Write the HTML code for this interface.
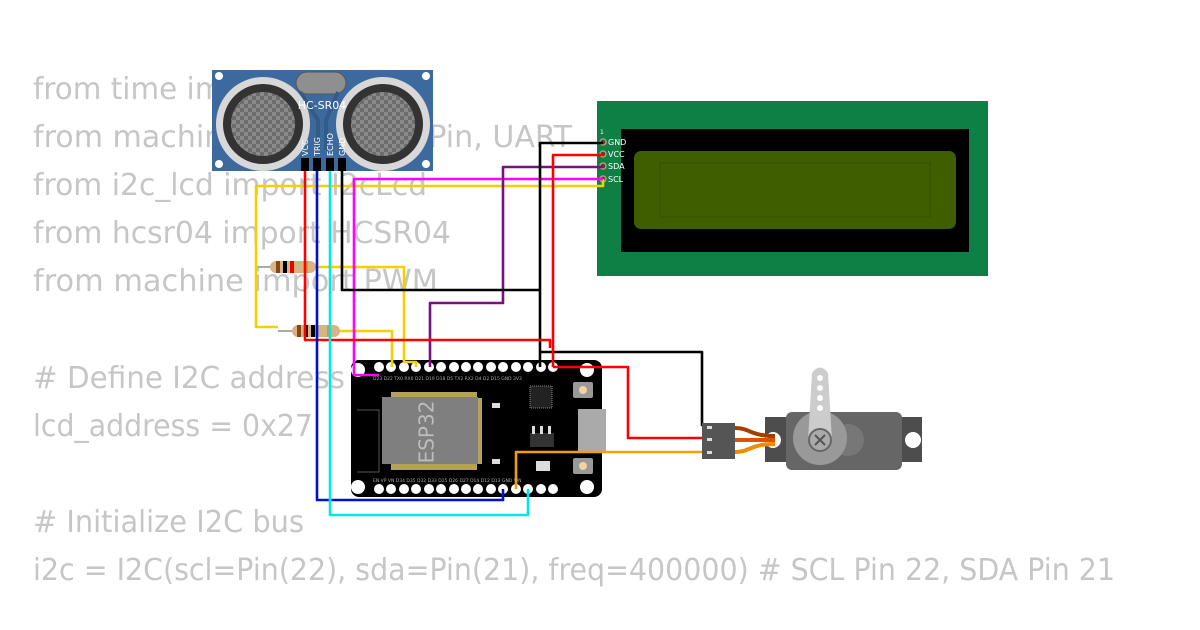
<!DOCTYPE html>
<html><head><meta charset="utf-8"><style>html,body{margin:0;padding:0;background:#fff}svg{display:block}</style></head>
<body>
<svg width="1200" height="630" viewBox="0 0 1200 630" xmlns="http://www.w3.org/2000/svg">
<defs>
<pattern id="chk" width="8" height="8" patternUnits="userSpaceOnUse">
<rect width="8" height="8" fill="#6d6d6d"/><rect width="4" height="4" fill="#8a8a8a"/><rect x="4" y="4" width="4" height="4" fill="#8a8a8a"/>
</pattern>
</defs>
<g font-family="'DejaVu Sans','Liberation Sans',sans-serif" font-size="30" fill="#c6c6c6">
<text x="33" y="99" textLength="397" lengthAdjust="spacingAndGlyphs">from time import sleep_ms</text>
<text x="33" y="147" textLength="539" lengthAdjust="spacingAndGlyphs">from machine import I2C, Pin, UART</text>
<text x="33" y="195" textLength="394" lengthAdjust="spacingAndGlyphs">from i2c_lcd import I2cLcd</text>
<text x="33" y="243" textLength="418" lengthAdjust="spacingAndGlyphs">from hcsr04 import HCSR04</text>
<text x="33" y="291" textLength="405" lengthAdjust="spacingAndGlyphs">from machine  import PWM</text>
<text x="33" y="388" textLength="312" lengthAdjust="spacingAndGlyphs"># Define I2C address</text>
<text x="33" y="436" textLength="280" lengthAdjust="spacingAndGlyphs">lcd_address = 0x27</text>
<text x="33" y="532" textLength="271" lengthAdjust="spacingAndGlyphs"># Initialize I2C bus</text>
<text x="33" y="580" textLength="1082" lengthAdjust="spacingAndGlyphs">i2c = I2C(scl=Pin(22), sda=Pin(21), freq=400000)  # SCL Pin 22, SDA Pin 21</text>
</g>

<!-- LCD -->
<rect x="597" y="101" width="391" height="175" fill="#0e7f45"/>
<rect x="621" y="129" width="348" height="123" fill="#000"/>
<rect x="634" y="151" width="322" height="78" rx="7" fill="#3f5e00"/>
<g fill="none" stroke="#375200" stroke-width="1">
<rect x="660" y="163" width="270" height="54"/>
</g>
<g font-family="'DejaVu Sans',sans-serif" font-size="8" fill="#fff">
<text x="600" y="134" font-size="6">1</text>
<text x="608" y="145">GND</text><text x="608" y="157">VCC</text><text x="608" y="169">SDA</text><text x="608" y="182">SCL</text>
</g>
<g fill="#444" stroke="#b89b6a" stroke-width="1.5">
<circle cx="603" cy="142" r="3"/><circle cx="603" cy="154" r="3"/><circle cx="603" cy="166" r="3"/><circle cx="603" cy="179" r="3"/>
</g>

<!-- ESP32 -->
<rect x="351" y="360" width="251" height="137" rx="8" fill="#000"/>
<g fill="#fff">
<circle cx="358" cy="370" r="7"/><circle cx="587" cy="370" r="7"/><circle cx="358" cy="487" r="7"/><circle cx="587" cy="487" r="7"/>
</g>
<g fill="#fff">
<circle cx="379" cy="367" r="5"/><circle cx="391" cy="367" r="5"/><circle cx="404" cy="367" r="5"/><circle cx="416" cy="367" r="5"/><circle cx="429" cy="367" r="5"/><circle cx="441" cy="367" r="5"/><circle cx="454" cy="367" r="5"/><circle cx="466" cy="367" r="5"/><circle cx="478" cy="367" r="5"/><circle cx="491" cy="367" r="5"/><circle cx="503" cy="367" r="5"/><circle cx="516" cy="367" r="5"/><circle cx="528" cy="367" r="5"/><circle cx="541" cy="367" r="5"/><circle cx="553" cy="367" r="5"/>
<circle cx="379" cy="489" r="5"/><circle cx="391" cy="489" r="5"/><circle cx="404" cy="489" r="5"/><circle cx="416" cy="489" r="5"/><circle cx="429" cy="489" r="5"/><circle cx="441" cy="489" r="5"/><circle cx="454" cy="489" r="5"/><circle cx="466" cy="489" r="5"/><circle cx="478" cy="489" r="5"/><circle cx="491" cy="489" r="5"/><circle cx="503" cy="489" r="5"/><circle cx="516" cy="489" r="5"/><circle cx="528" cy="489" r="5"/><circle cx="541" cy="489" r="5"/><circle cx="553" cy="489" r="5"/>
</g>
<rect x="391" y="392" width="86" height="6" fill="#b5a25a"/>
<rect x="391" y="464" width="86" height="6" fill="#b5a25a"/>
<rect x="477" y="398" width="5" height="66" fill="#b5a25a"/>
<rect x="382" y="397" width="96" height="67" fill="#7f7f7f"/>
<path d="M357 410 h22 v62 h-22" fill="none" stroke="#555" stroke-width="1"/>
<text transform="translate(428 432) rotate(-90)" text-anchor="middle" font-family="'DejaVu Sans',sans-serif" font-size="20" fill="#bdbdbd" dominant-baseline="middle">ESP32</text>
<rect x="492" y="403" width="8" height="5" fill="#ddd"/><rect x="492" y="459" width="8" height="5" fill="#ddd"/>
<rect x="530" y="386" width="22" height="22" fill="#222" stroke="#888" stroke-dasharray="1 1"/>
<rect x="573" y="382" width="20" height="16" rx="2" fill="#999"/><circle cx="583" cy="390" r="4" fill="#f0d49a"/>
<rect x="573" y="458" width="20" height="16" rx="2" fill="#999"/><circle cx="583" cy="466" r="4" fill="#f0d49a"/>
<rect x="578" y="409" width="28" height="42" fill="#aaa"/>
<rect x="530" y="433" width="24" height="14" fill="#333"/><rect x="536" y="461" width="14" height="10" fill="#ddd"/>
<rect x="532" y="426" width="3" height="8" fill="#ddd"/><rect x="540" y="426" width="3" height="8" fill="#ddd"/><rect x="548" y="426" width="3" height="8" fill="#ddd"/>
<g font-family="'DejaVu Sans',sans-serif" font-size="4.5" fill="#aaa">
<text x="373" y="380">D23 D22 TX0 RX0 D21 D19 D18 D5 TX2 RX2 D4 D2 D15 GND 3V3</text>
<text x="373" y="482">EN VP VN D34 D35 D32 D33 D25 D26 D27 D14 D12 D13 GND VIN</text>
</g>

<!-- HC-SR04 -->
<rect x="212" y="70" width="221" height="101" fill="#3d6a9e"/>
<g fill="#fff"><circle cx="219" cy="76" r="4"/><circle cx="426" cy="76" r="4"/><circle cx="219" cy="164" r="4"/><circle cx="426" cy="164" r="4"/></g>
<rect x="296" y="72" width="50" height="22" rx="11" fill="#8f8f8f" stroke="#555" stroke-width="1"/>
<path d="M300 92 L318 120 V150 M338 92 L326 120 V150" stroke="#335b88" stroke-width="4" fill="none"/>
<circle cx="263" cy="124" r="47" fill="#d8d8d8"/><circle cx="263" cy="124" r="40" fill="#333"/><circle cx="263" cy="124" r="32" fill="url(#chk)"/>
<circle cx="383" cy="124" r="47" fill="#d8d8d8"/><circle cx="383" cy="124" r="40" fill="#333"/><circle cx="383" cy="124" r="32" fill="url(#chk)"/>
<text x="322" y="109" text-anchor="middle" font-family="'DejaVu Sans',sans-serif" font-size="11" fill="#fff">HC-SR04</text>
<g font-family="'DejaVu Sans',sans-serif" font-size="8" fill="#fff">
<text transform="translate(308 156) rotate(-90)">VCC</text><text transform="translate(320 156) rotate(-90)">TRIG</text><text transform="translate(333 156) rotate(-90)">ECHO</text><text transform="translate(345 156) rotate(-90)">GND</text>
</g>
<g fill="#000"><rect x="301" y="158" width="8" height="13"/><rect x="313" y="158" width="8" height="13"/><rect x="326" y="158" width="8" height="13"/><rect x="338" y="158" width="8" height="13"/></g>

<!-- resistors -->
<g stroke="#aaa" stroke-width="2"><line x1="256" y1="267" x2="330" y2="267"/><line x1="278" y1="331" x2="355" y2="331"/></g>
<g><rect x="270" y="261" width="46" height="12" rx="6" fill="#d8b384"/>
<rect x="276" y="261" width="4" height="12" fill="#8b4513"/><rect x="283" y="261" width="4" height="12" fill="#000"/><rect x="290" y="261" width="4" height="12" fill="#e00"/><rect x="305" y="261" width="3" height="12" fill="#c8a040"/>
<rect x="292" y="325" width="48" height="12" rx="6" fill="#d8b384"/>
<rect x="297" y="325" width="4" height="12" fill="#8b4513"/><rect x="304" y="325" width="4" height="12" fill="#000"/><rect x="311" y="325" width="4" height="12" fill="#000"/><rect x="327" y="325" width="3" height="12" fill="#c8a040"/></g>

<!-- wires -->
<g fill="none" stroke-width="2.6" stroke-linejoin="round">
<path d="M603 179 V186 H256 V327 H278" stroke="#f5d000"/>
<path d="M316 267 H404 V362 H416 V367" stroke="#f5d000"/>
<path d="M340 331 H392 V367" stroke="#f5d000"/>
<path d="M603 179 H354 V375 H379" stroke="#ff00ff"/>
<path d="M603 167 H503 V303 H430 V367" stroke="#7a1080"/>
<path d="M603 143 H540 V367" stroke="#000"/>
<path d="M342 171 V290 H540" stroke="#000"/>
<path d="M541 352 H702 V425 H712" stroke="#000"/>
<path d="M603 155 H553 V367" stroke="#f00"/>
<path d="M305 171 V340 H550 V348" stroke="#f00"/>
<path d="M553 367 H628 V438 H712" stroke="#f00"/>
<path d="M317 171 V500 H503 V489" stroke="#0010d0"/>
<path d="M330 171 V515 H528 V489" stroke="#00e5ee"/>
<path d="M712 452 H516 V489" stroke="#f5a000"/>
</g>

<!-- servo -->
<rect x="765" y="417" width="157" height="45" fill="#4d4d4d"/>
<circle cx="773" cy="440" r="8" fill="#fff"/><circle cx="913" cy="440" r="8" fill="#fff"/>
<rect x="786" y="412" width="116" height="58" rx="6" fill="#666"/>
<path d="M735 440 H775" stroke="#e05000" stroke-width="4" fill="none"/>
<path d="M735 428 C750 428 750 436 775 436" stroke="#a04000" stroke-width="4" fill="none"/>
<path d="M735 452 C750 452 750 444 775 444" stroke="#f08a00" stroke-width="4" fill="none"/>
<circle cx="848" cy="440" r="16" fill="#777"/>
<circle cx="820" cy="438" r="27" fill="#999"/>
<path d="M812 373 Q820 362 828 373 L832 440 H808 Z" fill="#ccc"/>
<g fill="#fff"><circle cx="820" cy="378" r="3"/><circle cx="820" cy="388" r="3"/><circle cx="820" cy="398" r="3"/><circle cx="820" cy="408" r="3"/></g>
<circle cx="820" cy="440" r="11" fill="#aaa" stroke="#666" stroke-width="2"/>
<path d="M815 435 l10 10 M825 435 l-10 10" stroke="#555" stroke-width="2"/>
<rect x="702" y="423" width="33" height="36" fill="#555"/>
<g fill="#ddd"><rect x="707" y="426" width="5" height="3"/><rect x="707" y="438" width="5" height="3"/><rect x="707" y="451" width="5" height="3"/></g>
</svg>
</body></html>
